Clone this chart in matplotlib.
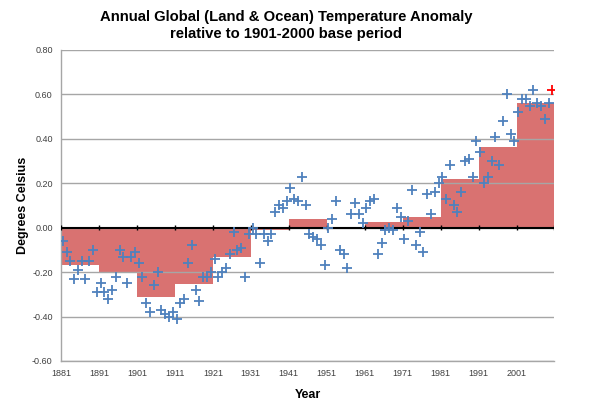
import numpy as np
import matplotlib
matplotlib.use("Agg")
import matplotlib.pyplot as plt

plt.rcParams["font.family"] = ["Liberation Sans", "DejaVu Sans"]

# annual anomalies (deg C), 1881-2010
years = np.arange(1881, 2011)
anom = [
    -0.06, -0.11, -0.15, -0.23, -0.19, -0.15, -0.23, -0.15, -0.10, -0.29,   # 1881-1890
    -0.25, -0.29, -0.32, -0.28, -0.22, -0.10, -0.13, -0.25, -0.13, -0.11,   # 1891-1900
    -0.16, -0.22, -0.34, -0.38, -0.26, -0.20, -0.37, -0.39, -0.40, -0.38,   # 1901-1910
    -0.41, -0.34, -0.32, -0.16, -0.08, -0.28, -0.33, -0.22, -0.22, -0.20,   # 1911-1920
    -0.14, -0.22, -0.20, -0.18, -0.12, -0.02, -0.10, -0.09, -0.22, -0.03,   # 1921-1930
     0.00, -0.03, -0.16, -0.03, -0.06, -0.03,  0.07,  0.10,  0.09,  0.12,   # 1931-1940
     0.18,  0.13,  0.12,  0.23,  0.10, -0.03, -0.04, -0.05, -0.08, -0.17,   # 1941-1950
     0.00,  0.04,  0.12, -0.10, -0.12, -0.18,  0.06,  0.11,  0.06,  0.02,   # 1951-1960
     0.09,  0.12,  0.13, -0.12, -0.07, -0.01,  0.00, -0.01,  0.09,  0.05,   # 1961-1970
    -0.05,  0.03,  0.17, -0.08, -0.02, -0.11,  0.15,  0.06,  0.16,  0.20,   # 1971-1980
     0.23,  0.13,  0.28,  0.10,  0.07,  0.16,  0.30,  0.31,  0.23,  0.39,   # 1981-1990
     0.34,  0.20,  0.23,  0.30,  0.41,  0.28,  0.48,  0.60,  0.42,  0.39,   # 1991-2000
     0.52,  0.58,  0.58,  0.55,  0.62,  0.56,  0.55,  0.49,  0.56,  0.62,   # 2001-2010
]
# decadal means shown as bars
decade_start = np.arange(1881, 2011, 10)
decade_mean = [-0.168, -0.201, -0.311, -0.254, -0.131, -0.010, 0.039,
               -0.003, 0.027, 0.050, 0.218, 0.365, 0.563]
xticks = np.arange(1881, 2012, 10)
xlabels = [str(y) for y in xticks[:-1]] + [""]

fig = plt.figure(figsize=(5.9, 4.09), dpi=100)
ax = fig.add_axes([0.1034, 0.1174, 0.8364, 0.7604])

ax.grid(axis="y", color="#a6a6a6", lw=1.0, zorder=0)
ax.bar(decade_start, decade_mean, width=10, align="edge", color="#cf4b49",
       alpha=0.78, lw=0, zorder=1)
ax.axhline(0, color="black", lw=1.5, zorder=3)
ax.vlines(xticks, -0.012, 0.012, color="black", lw=1.0, zorder=3)

ax.plot(years[:-1] + 0.45, anom[:-1], "+", color="#4f81bd", ms=6.5, mew=1.3, zorder=4)
ax.plot(years[-1:] + 0.45, anom[-1:], "+", color="#ff0000", ms=6.5, mew=1.3, zorder=4)

ax.set_xlim(1881, 2011)
ax.set_ylim(-0.6, 0.8)
ax.set_yticks(np.arange(-0.6, 0.81, 0.2))
ax.set_yticklabels([f"{v:.2f}" for v in np.arange(-0.6, 0.81, 0.2)])
ax.set_xticks(xticks)
ax.set_xticklabels(xlabels)
ax.tick_params(axis="both", length=0, labelsize=6.5, colors="#404040", pad=6)
for s in ("top", "right"):
    ax.spines[s].set_visible(False)
for s in ("left", "bottom"):
    ax.spines[s].set_color("#a6a6a6")
    ax.spines[s].set_linewidth(1.0)

ax.set_xlabel("Year", fontsize=9, fontweight="bold", labelpad=8)
ax.set_ylabel("Degrees Celsius", fontsize=9, fontweight="bold", labelpad=2)
fig.text(0.485, 0.975, "Annual Global (Land & Ocean) Temperature Anomaly\nrelative to 1901-2000 base period",
         ha="center", va="top", fontsize=10.7, fontweight="bold", linespacing=1.25)

fig.savefig("out.png", dpi=100)
